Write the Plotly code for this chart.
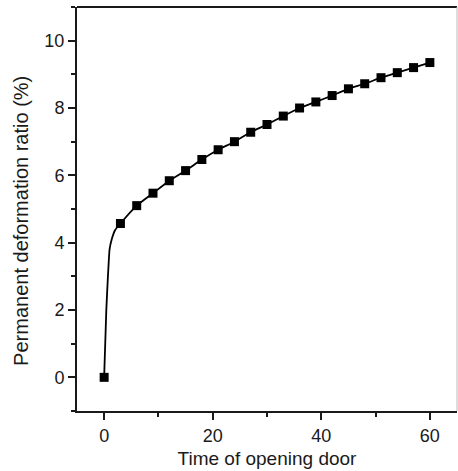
import plotly.graph_objects as go

# Measured permanent deformation ratio at each door-opening time
time_points = [0, 3, 6, 9, 12, 15, 18, 21, 24, 27, 30, 33, 36, 39, 42, 45, 48, 51, 54, 57, 60]
deform_ratio = [0, 4.57, 5.10, 5.47, 5.84, 6.14, 6.47, 6.76, 7.00, 7.28, 7.51,
                7.76, 8.00, 8.18, 8.37, 8.57, 8.72, 8.90, 9.05, 9.20, 9.35]

# Smoothed trend curve (steep initial rise, then follows the measurements)
curve_x = [0, 0.4, 0.7, 1.0, 1.4, 2.0] + time_points[1:]
curve_y = [0, 2.0, 3.0, 3.8, 4.1, 4.37] + deform_ratio[1:]

x_tick_vals = [0, 20, 40, 60]
y_tick_vals = [0, 2, 4, 6, 8, 10]

font_family = "Arial, Liberation Sans, sans-serif"
ink = "#1a1a1a"

fig = go.Figure()
fig.add_trace(go.Scatter(
    x=curve_x, y=curve_y, mode="lines",
    line=dict(color="black", width=1.8, shape="spline", smoothing=0.4),
    hoverinfo="skip", showlegend=False,
))
fig.add_trace(go.Scatter(
    x=time_points, y=deform_ratio, mode="markers",
    marker=dict(symbol="square", size=9, color="black"),
    showlegend=False,
))

axis_common = dict(
    showgrid=False, zeroline=False,
    showline=True, linecolor=ink, linewidth=2,
    ticks="outside", ticklen=7, tickwidth=1.5, tickcolor=ink,
    tickfont=dict(family=font_family, size=18, color=ink),
)

fig.update_xaxes(
    range=[-5, 65], tickvals=x_tick_vals,
    minor=dict(ticks="outside", ticklen=4, tickwidth=1.5, tickcolor=ink, dtick=10, tick0=0),
    title=dict(text="Time of opening door", font=dict(family=font_family, size=19, color=ink),
               standoff=7),
    **axis_common,
)
fig.update_yaxes(
    range=[-1, 11], tickvals=y_tick_vals,
    minor=dict(ticks="outside", ticklen=4, tickwidth=1.5, tickcolor=ink, dtick=1, tick0=0),
    **axis_common,
)

# Y-axis title, placed slightly below the plot's vertical centre
fig.add_annotation(
    text="Permanent deformation ratio (%)", textangle=-90,
    xref="paper", yref="paper", x=-0.148, y=0.47,
    xanchor="center", yanchor="middle", showarrow=False,
    font=dict(family=font_family, size=20, color=ink),
)

# Frame: dark top edge, faint right edge
fig.add_shape(type="line", xref="paper", yref="paper", x0=0, x1=1, y0=1, y1=1,
              line=dict(color=ink, width=2))
fig.add_shape(type="line", xref="paper", yref="paper", x0=1, x1=1, y0=0, y1=1,
              line=dict(color="#bbbbbb", width=1))

fig.update_layout(
    width=458, height=471,
    margin=dict(l=77, r=1, t=7, b=60),
    plot_bgcolor="white", paper_bgcolor="white",
    font=dict(family=font_family, color=ink),
)

fig.write_html("out.html")
